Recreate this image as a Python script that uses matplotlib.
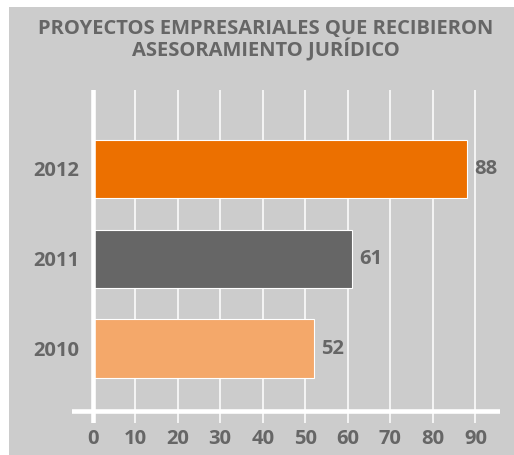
import matplotlib.pyplot as plt
from matplotlib.patches import Rectangle

# Datos
years = ['2010', '2011', '2012']
values = [52, 61, 88]
bar_colors = ['#F4A86A', '#666666', '#EC7000']
x_ticks = [0, 10, 20, 30, 40, 50, 60, 70, 80, 90]
title = 'PROYECTOS EMPRESARIALES QUE RECIBIERON\nASESORAMIENTO JURÍDICO'

text_color = '#666666'
bg_color = '#CCCCCC'
plt.rcParams['font.family'] = ['Open Sans', 'DejaVu Sans']
plt.rcParams['font.weight'] = 'bold'

W, H = 514, 455
fig = plt.figure(figsize=(W / 100, H / 100), dpi=100)
fig.patch.set_facecolor('white')
fig.patches.append(Rectangle((9 / W, 0), 1 - 9 / W, 1 - 7 / H, transform=fig.transFigure,
                             facecolor=bg_color, edgecolor='none', zorder=-1))

ax = fig.add_axes([72 / W, (H - 423) / H, (500 - 72) / W, (423 - 90) / H])
ax.set_facecolor('none')
for s in ax.spines.values():
    s.set_visible(False)

ypos = list(range(len(years)))
ax.barh(ypos, values, height=0.65, color=bar_colors, edgecolor='white', linewidth=0.8, zorder=3)

# rejilla
for t in x_ticks:
    ax.axvline(t, color='white', lw=3.3 if t == 0 else 1.1, zorder=1 if t else 4)
ax.axhline(-0.70, color='white', lw=3.3, zorder=4)

ax.set_xlim(-4.82, 95.77)
ax.set_ylim(-0.83, 2.88)
ax.set_xticks(x_ticks)
ax.set_yticks(ypos)
ax.set_yticklabels(years)
ax.tick_params(axis='both', length=0, labelsize=14.5, labelcolor=text_color)
ax.tick_params(axis='x', pad=4)
ax.tick_params(axis='y', pad=-5)

for y, v in zip(ypos, values):
    ax.annotate(str(v), (v, y), xytext=(5, 0), textcoords='offset points',
                ha='left', va='center', fontsize=14.5, color=text_color, fontweight='bold')

fig.text(266 / W, 1 - 40 / H, title, ha='center', va='center', fontsize=14.5,
         color=text_color, fontweight='bold', linespacing=0.95)

fig.savefig('out.png', dpi=100)
